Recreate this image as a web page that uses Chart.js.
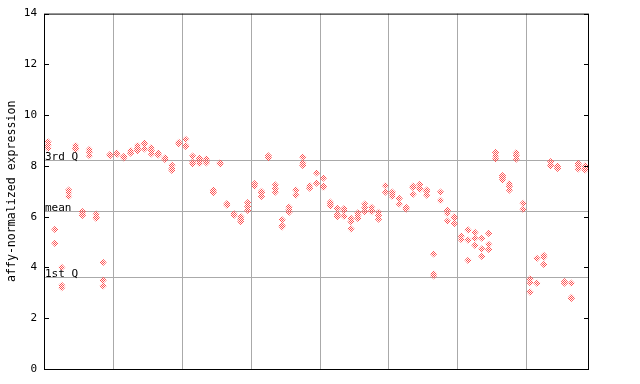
<!DOCTYPE html>
<html><head><meta charset="utf-8">
<script src="https://cdn.jsdelivr.net/npm/chart.js@4"></script>
<style>html,body{margin:0;padding:0;background:#fff}</style>
</head><body>
<canvas id="c" width="640" height="384"></canvas>
<script>
// expression values per sample column (replicates)
const expression = [
  [8.95, 8.82, 8.7], [5.5, 4.95], [4.0, 3.3, 3.2], [7.05, 6.95, 6.8], [8.8, 8.7, 8.65],
  [6.2, 6.1, 6.05], [8.65, 8.55, 8.4], [6.1, 5.97, 5.93], [4.2, 3.5, 3.27], [8.45, 8.4],
  [8.5, 8.45], [8.37, 8.32], [8.6, 8.5], [8.8, 8.7, 8.6], [8.9, 8.85, 8.67],
  [8.72, 8.6, 8.47], [8.5, 8.43], [8.32, 8.25], [8.03, 7.9, 7.82], [8.93, 8.87],
  [9.05, 8.8, 8.77], [8.39, 8.15, 8.08], [8.3, 8.2, 8.1], [8.28, 8.15, 8.12], [7.05, 6.95],
  [8.12, 8.08], [6.52, 6.45], [6.12, 6.05], [6.0, 5.9, 5.8], [6.55, 6.4, 6.25],
  [7.3, 7.2], [7.0, 6.95, 6.8], [8.4, 8.32], [7.25, 7.1, 6.97], [5.88, 5.65, 5.6],
  [6.38, 6.27, 6.17], [7.05, 6.85], [8.35, 8.12, 8.02], [7.22, 7.12], [7.72, 7.32],
  [7.52, 7.2, 7.15], [6.57, 6.5, 6.42], [6.33, 6.1, 6.0], [6.32, 6.24, 6.02], [5.93, 5.8, 5.52],
  [6.15, 6.05, 5.93], [6.5, 6.35, 6.2], [6.37, 6.23, 6.2], [6.17, 6.05, 5.9], [7.22, 6.97],
  [6.97, 6.88, 6.8], [6.72, 6.5], [6.37, 6.3], [7.2, 7.15, 6.88], [7.27, 7.12, 7.08],
  [7.05, 7.0, 6.85], [4.53, 3.75, 3.67], [6.97, 6.64], [6.25, 6.13, 5.83], [6.0, 5.95, 5.73],
  [5.24, 5.1], [5.48, 5.08, 4.28], [5.38, 5.15, 4.87], [5.15, 4.73, 4.44], [5.34, 4.91, 4.71],
  [8.53, 8.4, 8.27], [7.62, 7.55, 7.45], [7.3, 7.2, 7.05], [8.52, 8.4, 8.27], [6.53, 6.29],
  [3.55, 3.4, 3.03], [4.36, 3.38], [4.48, 4.4, 4.12], [8.17, 8.05, 8.0], [8.0, 7.95, 7.9],
  [3.44, 3.38], [3.38, 2.82, 2.78], [8.1, 8.0, 7.88], [8.0, 7.92, 7.84]
];
const yTicks = [0, 2, 4, 6, 8, 10, 12, 14];
const refValues = [8.23, 6.22, 3.61];
const refLabels = ['3rd Q', 'mean', '1st Q'];
const groupBreaks = [9.5, 19.5, 29.5, 39.5, 49.5, 59.5, 69.5];
const yTitle = 'affy-normalized expression';

const points = [];
expression.forEach((vals, i) => vals.forEach(v => points.push({x: i, y: v})));

const FONT = {family: 'DejaVu Sans Mono', size: 11};
const TITLE_FONT = {family: 'DejaVu Sans Mono', size: 11.6};
const RED = 'rgb(255,80,80)';
const GRAY = '#aaaaaa';

// checker pattern for diamonds
const pc = document.createElement('canvas');
pc.width = 2; pc.height = 2;
const pctx = pc.getContext('2d');
pctx.fillStyle = RED;
pctx.fillRect(0, 0, 1, 1);
pctx.fillRect(1, 1, 1, 1);
const ctx = document.getElementById('c').getContext('2d');
const pattern = ctx.createPattern(pc, 'repeat');

const decor = {
  id: 'decor',
  beforeDatasetsDraw(chart) {
    const {ctx, chartArea: a, scales: {y}} = chart;
    ctx.save();
    ctx.strokeStyle = GRAY;
    ctx.lineWidth = 1;
    ctx.font = '11px "DejaVu Sans Mono"';
    ctx.fillStyle = '#000';
    ctx.textAlign = 'left';
    ctx.textBaseline = 'alphabetic';
    refValues.forEach((v, i) => {
      const py = Math.round(y.getPixelForValue(v)) + 0.5;
      ctx.beginPath();
      ctx.moveTo(a.left, py);
      ctx.lineTo(a.right, py);
      ctx.stroke();
      ctx.fillText(refLabels[i], a.left + 1, py - 0.5);
    });
    ctx.restore();
  },
  afterDraw(chart) {
    const {ctx, chartArea: a, scales: {y}} = chart;
    ctx.save();
    ctx.strokeStyle = '#000';
    ctx.lineWidth = 1;
    ctx.strokeRect(a.left + 0.5, a.top + 0.5, a.right - a.left, a.bottom - a.top);
    ctx.beginPath();
    yTicks.forEach(v => {
      const py = Math.round(y.getPixelForValue(v)) + 0.5;
      ctx.moveTo(a.left, py); ctx.lineTo(a.left + 5, py);
      ctx.moveTo(a.right - 4, py); ctx.lineTo(a.right + 1, py);
    });
    ctx.stroke();
    ctx.restore();
  }
};

new Chart(ctx, {
  type: 'scatter',
  data: {
    datasets: [{
      data: points,
      pointStyle: 'rectRot',
      pointRadius: 3.6,
      pointBackgroundColor: pattern,
      pointBorderWidth: 0,
      showLine: false
    }]
  },
  options: {
    responsive: false,
    devicePixelRatio: 1,
    animation: false,
    events: [],
    layout: {padding: {left: 0, right: 52, top: 13, bottom: 15}},
    plugins: {legend: {display: false}, tooltip: {enabled: false}},
    scales: {
      x: {
        type: 'linear',
        min: -0.582,
        max: 78.42,
        afterBuildTicks: s => { s.ticks = groupBreaks.map(v => ({value: v})); },
        ticks: {display: false},
        grid: {color: GRAY, lineWidth: 1, drawTicks: false},
        border: {display: false}
      },
      y: {
        type: 'linear',
        min: 0,
        max: 14,
        afterBuildTicks: s => { s.ticks = yTicks.map(v => ({value: v})); },
        afterFit: s => { s.width = 44; },
        ticks: {font: FONT, color: '#000', padding: 7},
        grid: {display: false, drawTicks: false},
        border: {display: false},
        title: {display: true, text: yTitle, font: TITLE_FONT, color: '#000', padding: {top: 5, bottom: 0}}
      }
    }
  },
  plugins: [decor]
});
</script>
</body></html>
